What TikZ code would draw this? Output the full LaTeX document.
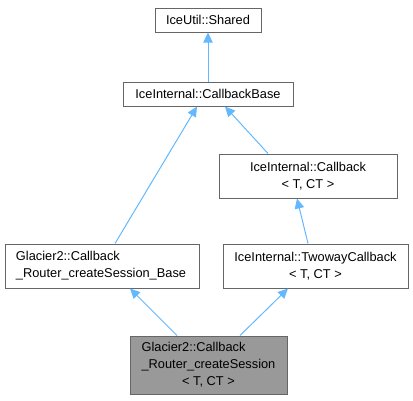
\documentclass[tikz,border=0pt]{standalone}
\usepackage{fontspec}
\setmainfont{Liberation Sans}
\usetikzlibrary{arrows.meta,calc}
\definecolor{edgeblue}{HTML}{63B8FF}
\definecolor{boxborder}{HTML}{666666}
\definecolor{rootfill}{HTML}{999999}
\begin{document}
\begin{tikzpicture}[x=0.75pt,y=-0.75pt,
  cls/.style={draw=boxborder,line width=0.75pt,fill=white,inner sep=0pt,
    font=\fontsize{9.6}{12.75}\selectfont,align=center},
  rootcls/.style={cls,fill=rootfill},
  inh/.style={draw=edgeblue,line width=0.75pt,
    -{Triangle[length=7.5pt,width=7pt,fill=edgeblue]}}]
\useasboundingbox (0,0) rectangle (413,400);
\node[cls,minimum width=106*0.75pt,minimum height=24*0.75pt] (shared) at (208,20) {IceUtil::Shared};
\node[cls,minimum width=170*0.75pt,minimum height=24*0.75pt] (cbbase) at (208,94) {IceInternal::CallbackBase};
\node[cls,minimum width=178*0.75pt,minimum height=44*0.75pt] (cb) at (308,176) {IceInternal::Callback\\{<} T, CT {>}};
\node[cls,minimum width=194*0.75pt,minimum height=44*0.75pt,text width=172*0.75pt,align=left] (base) at (102,266) {Glacier2::Callback\\\_Router\_createSession\_Base};
\node[cls,minimum width=185*0.75pt,minimum height=44*0.75pt] (twoway) at (315.5,266) {IceInternal::TwowayCallback\\{<} T, CT {>}};
\node[rootcls,minimum width=157*0.75pt,minimum height=58*0.75pt] (root) at (208.5,365) {\begin{tabular}{@{}l@{}}Glacier2::Callback\\\_Router\_createSession\\\multicolumn{1}{@{}c@{}}{{<} T, CT {>}}\end{tabular}};
\draw[inh] (cbbase.north) -- (shared.south);
\draw[inh] ($(base.north)+(13,0)$) -- ($(cbbase.south)+(-11,0)$);
\draw[inh] ($(cb.north)+(-40,0)$) -- ($(cbbase.south)+(17,0)$);
\draw[inh] ($(twoway.north)+(-7.5,0)$) -- ($(cb.south)+(-11,0)$);
\draw[inh] ($(root.north)+(-31.5,0)$) -- ($(base.south)+(28,0)$);
\draw[inh] ($(root.north)+(31.5,0)$) -- ($(twoway.south)+(-27.5,0)$);
\end{tikzpicture}
\end{document}
